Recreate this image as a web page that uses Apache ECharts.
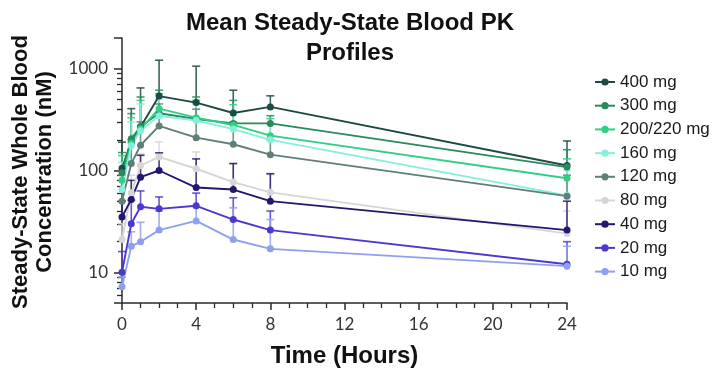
<!DOCTYPE html>
<html>
<head>
<meta charset="utf-8">
<script src="https://cdn.jsdelivr.net/npm/echarts@6/dist/echarts.min.js"></script>
<style>
  html, body { margin: 0; padding: 0; background: #fff; }
  #main { width: 714px; height: 376px; }
</style>
</head>
<body>
<div id="main"></div>
<script>
// sampling times (hours)
var times = [0, 0.5, 1, 2, 4, 6, 8, 24];

var doses = ['400 mg', '300 mg', '200/220 mg', '160 mg', '120 mg', '80 mg', '40 mg', '20 mg', '10 mg'];
var colors = ['#1e4a44', '#2b8a5c', '#2fcf84', '#86efdc', '#5f7f78', '#d6d6d6', '#23166e', '#4b39cf', '#8e9ff0'];

// mean concentration (nM)
var mean400 = [105, 191, 268, 538, 464, 367, 421, 112];
var mean300 = [95, 205, 270, 365, 320, 290, 290, 108];
var mean200 = [80, 185, 255, 405, 330, 280, 220, 84];
var mean160 = [65, 175, 245, 345, 310, 255, 200, 57];
var mean120 = [50, 117, 177, 274, 210, 181, 143, 56];
var mean80 = [21, 60, 112, 136, 104, 77, 61, 24];
var mean40 = [35, 52, 86, 100, 68, 65, 50, 26];
var mean20 = [10, 30, 44, 42, 45, 33, 26, 12];
var mean10 = [7.2, 18, 20, 26, 32, 21, 17, 11.5];

// top of error bar (mean + SD), only upper bars drawn
var upper400 = [190, 405, 647, 1210, 1057, 614, 541, 195];
var upper300 = [150, 362, 527, 614, 527, 488, 345, 160];
var upper200 = [140, 330, 488, 570, 488, 443, 323, 130];
var upper160 = [120, 300, 450, 500, 450, 380, 290, 100];
var upper120 = [90, 200, 300, 450, 400, 300, 200, 90];
var upper80 = [30, 90, 146, 191, 152, 117, 91, 40];
var upper40 = [50, 80, 141, 149, 130, 117, 93, 50];
var upper20 = [16, 51, 63, 55, 60, 54, 40, 20];
var upper10 = [9, 25, 31, 40, 44, 43, 33, 18];

var yMajor = [5, 10, 100, 1000, 2000];
var yLabels = [10, 100, 1000];
var yMinor = [6, 7, 8, 9, 20, 30, 40, 50, 60, 70, 80, 90, 200, 300, 400, 500, 600, 700, 800, 900];

var means = [mean400, mean300, mean200, mean160, mean120, mean80, mean40, mean20, mean10];
var uppers = [upper400, upper300, upper200, upper160, upper120, upper80, upper40, upper20, upper10];

var chart = echarts.init(document.getElementById('main'));

var series = [];
doses.forEach(function (name, i) {
  series.push({
    name: name,
    type: 'line',
    data: times.map(function (t, k) { return [t, means[i][k]]; }),
    symbol: 'circle',
    symbolSize: 7,
    color: colors[i],
    lineStyle: { width: 1.9 },
    z: 3
  });
});
// upper error bars
doses.forEach(function (name, i) {
  series.push({
    name: name,
    type: 'custom',
    z: 2,
    data: times.map(function (t, k) { return [t, means[i][k], uppers[i][k]]; }),
    renderItem: function (params, api) {
      var lo = api.coord([api.value(0), api.value(1)]);
      var hi = api.coord([api.value(0), api.value(2)]);
      var c = colors[i];
      return {
        type: 'group',
        children: [
          { type: 'line', shape: { x1: lo[0], y1: lo[1], x2: hi[0], y2: hi[1] }, style: { stroke: c, lineWidth: 1.6, opacity: 0.85 } },
          { type: 'line', shape: { x1: hi[0] - 4, y1: hi[1], x2: hi[0] + 4, y2: hi[1] }, style: { stroke: c, lineWidth: 1.6, opacity: 0.85 } }
        ]
      };
    }
  });
});

function isLabel(v) {
  for (var j = 0; j < yLabels.length; j++) {
    if (Math.abs(v - yLabels[j]) < yLabels[j] * 1e-6) return true;
  }
  return false;
}

var option = {
  animation: false,
  title: {
    text: 'Mean Steady-State Blood PK\nProfiles',
    left: 345,
    top: 3,
    textAlign: 'center',
    textStyle: { fontFamily: 'Liberation Sans', fontWeight: 'bold', fontSize: 24, lineHeight: 30, color: '#111' }
  },
  legend: {
    orient: 'vertical',
    left: 589,
    top: 68,
    itemWidth: 20,
    itemHeight: 9,
    itemGap: 5.7,
    data: doses,
    textStyle: { fontFamily: 'Liberation Sans', fontSize: 17, lineHeight: 18, color: '#1a1a1a' }
  },
  grid: { left: 122, right: 147, top: 38, bottom: 73 },
  xAxis: {
    type: 'value',
    min: 0,
    max: 24,
    interval: 4,
    name: 'Time (Hours)',
    nameLocation: 'middle',
    nameGap: 41,
    nameTextStyle: { fontFamily: 'Liberation Sans', fontWeight: 'bold', fontSize: 24, color: '#111' },
    axisLine: { lineStyle: { color: '#2a2a2a', width: 1.5 } },
    axisTick: { length: 7, lineStyle: { color: '#2a2a2a', width: 1.5 } },
    minorTick: { show: true, splitNumber: 4, length: 5, lineStyle: { color: '#2a2a2a', width: 1.3 } },
    splitLine: { show: false },
    axisLabel: { fontFamily: 'Lato', fontSize: 17, color: '#333', margin: 13 }
  },
  yAxis: [{
    type: 'log',
    logBase: 10,
    min: 5,
    max: 2000,
    axisLine: { show: true, lineStyle: { color: '#2a2a2a', width: 1.5 } },
    axisTick: { show: true, length: 8, customValues: yMajor, lineStyle: { color: '#2a2a2a', width: 1.5 } },
    splitLine: { show: false },
    axisLabel: {
      customValues: yLabels,
      fontFamily: 'Lato', fontSize: 17, color: '#333', margin: 14,
      formatter: function (v) { return isLabel(v) ? String(Math.round(v)) : ''; }
    }
  }, {
    type: 'log',
    logBase: 10,
    min: 5,
    max: 2000,
    position: 'left',
    axisLine: { show: false },
    axisTick: { show: true, length: 5, customValues: yMinor, lineStyle: { color: '#2a2a2a', width: 1.3 } },
    splitLine: { show: false },
    axisLabel: { show: false }
  }],
  graphic: [{
    type: 'text',
    x: 33,
    y: 172,
    rotation: Math.PI / 2,
    style: {
      text: 'Steady-State Whole Blood\nConcentration (nM)',
      font: 'bold 22px "Liberation Sans"',
      textAlign: 'center',
      textVerticalAlign: 'middle',
      lineHeight: 24,
      fill: '#111'
    }
  }],
  series: series
};

chart.setOption(option);
</script>
</body>
</html>
